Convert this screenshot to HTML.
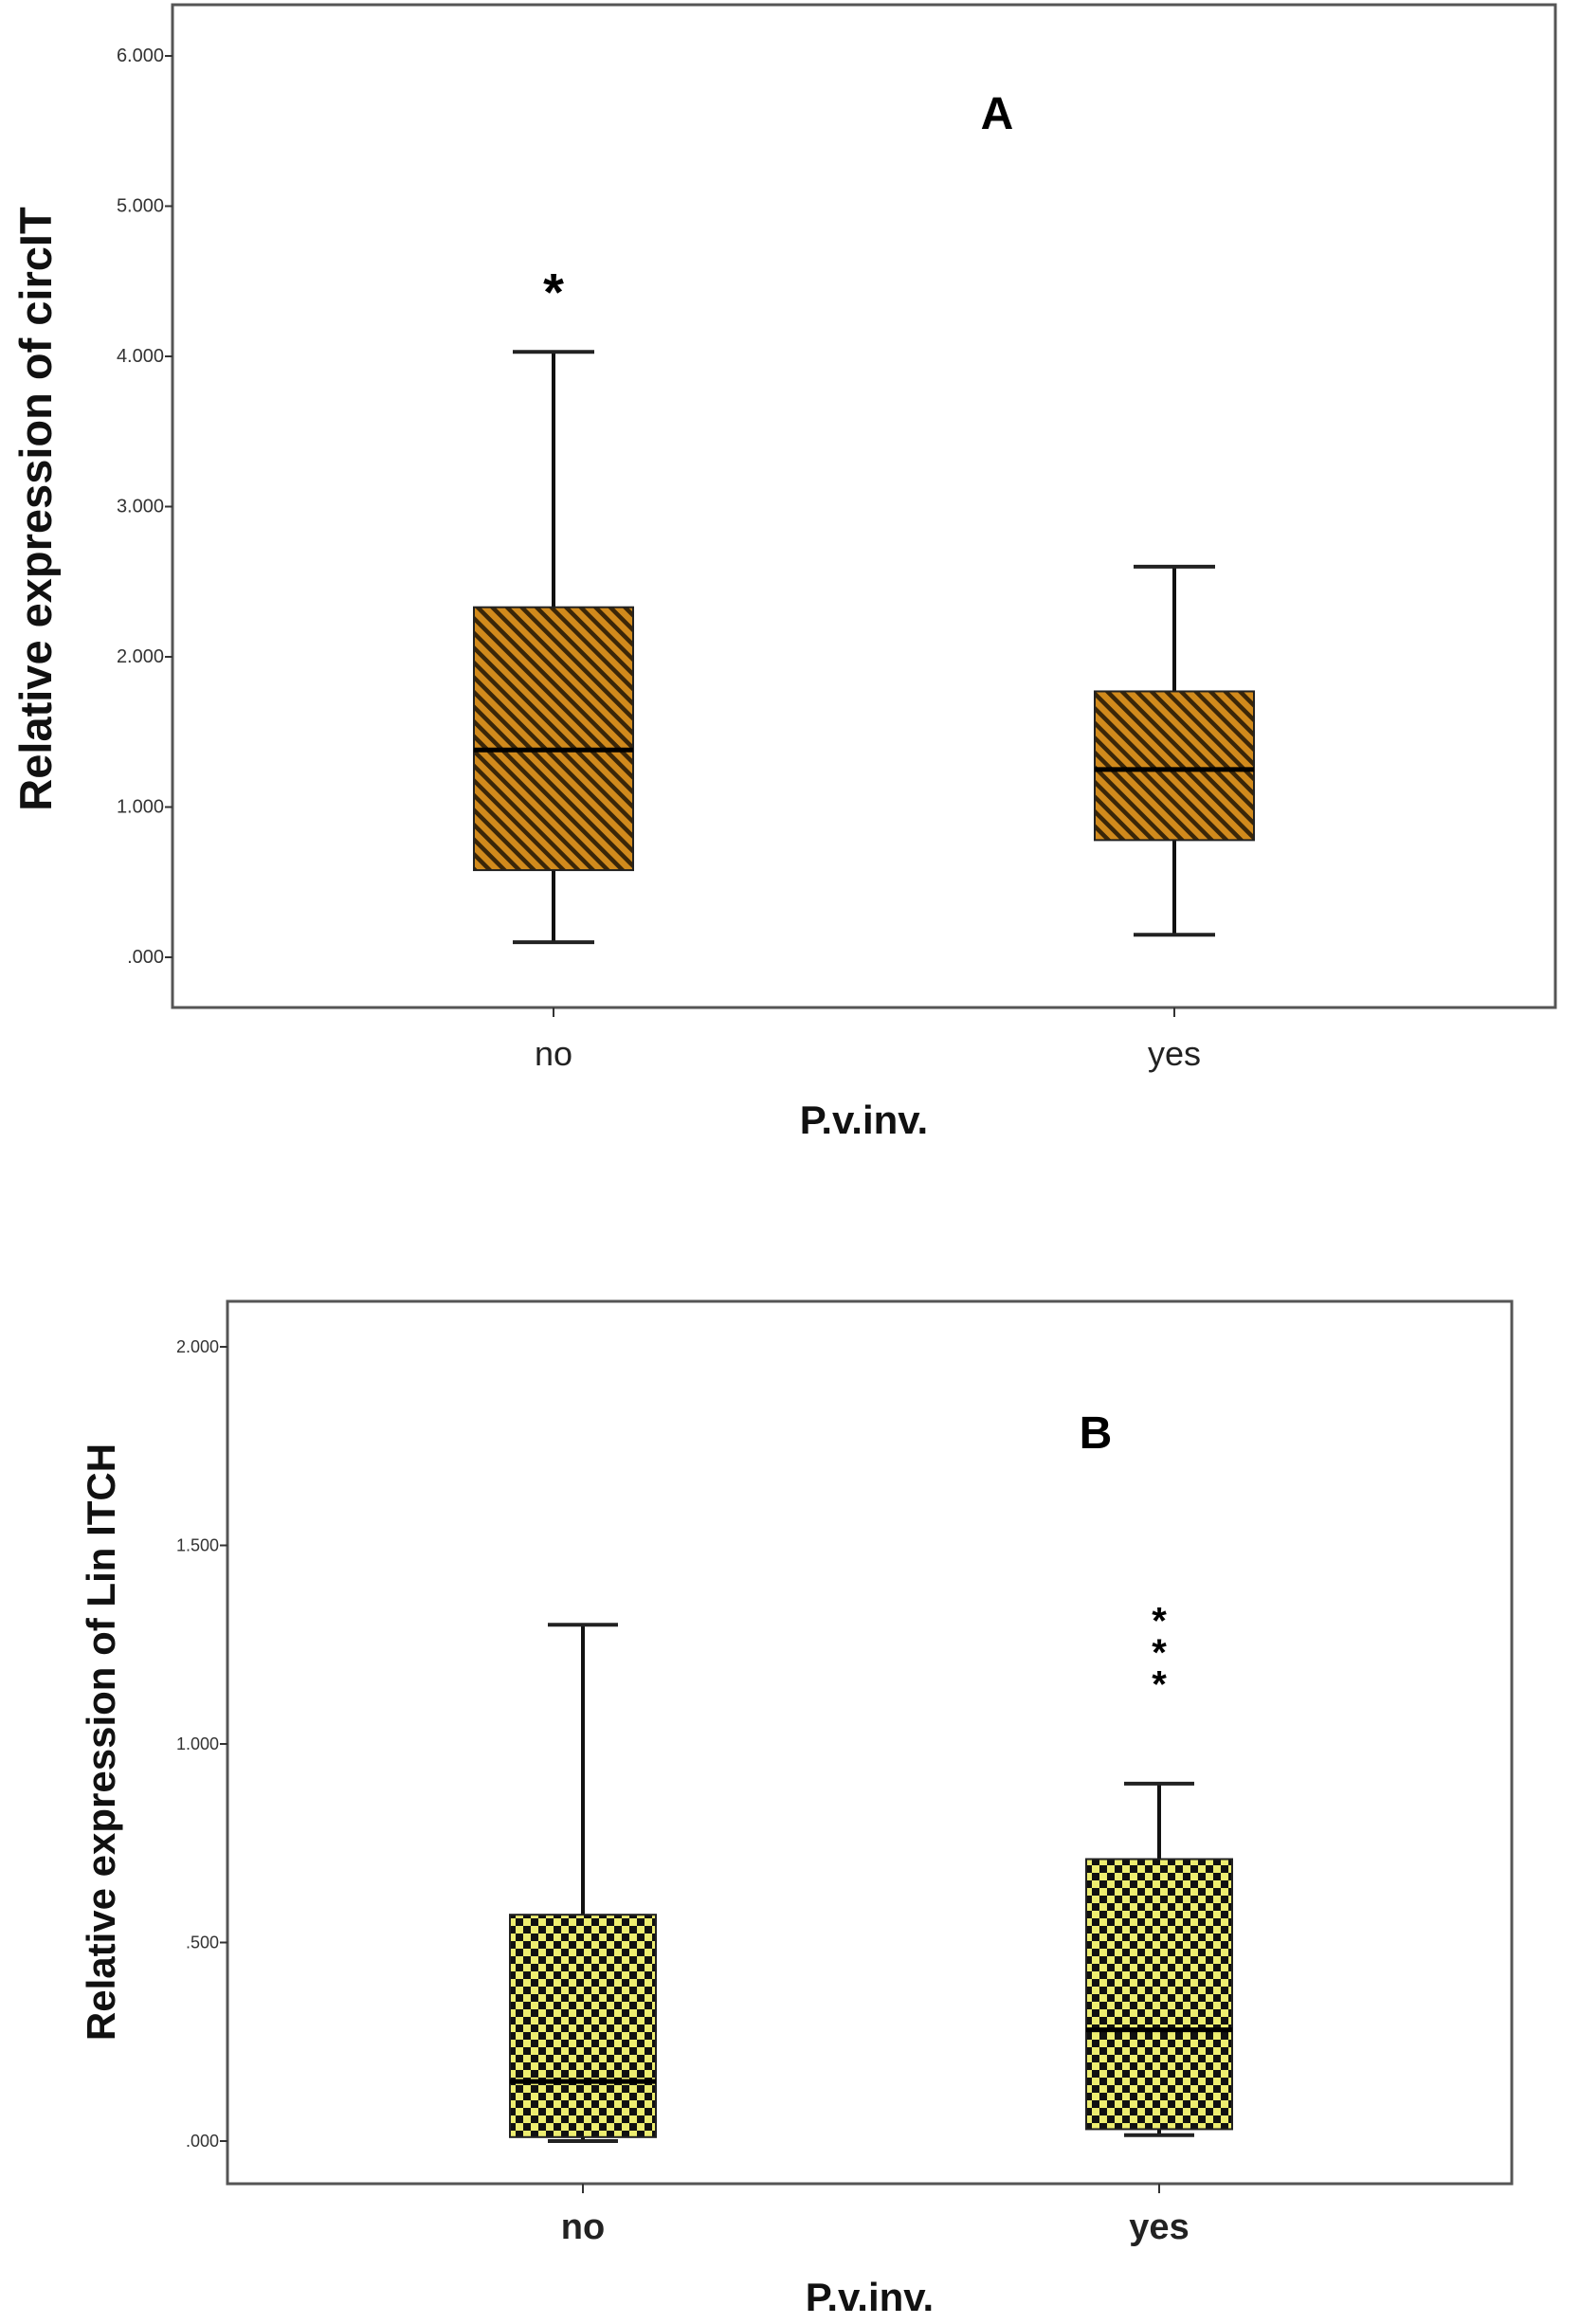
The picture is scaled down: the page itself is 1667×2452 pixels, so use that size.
<!DOCTYPE html>
<html><head><meta charset="utf-8"><style>
html,body{margin:0;padding:0;background:#fff;}
svg{display:block;font-family:"Liberation Sans",sans-serif;}
</style></head><body>
<svg width="1667" height="2452" viewBox="0 0 1667 2452">
<defs>
<pattern id="hatch" width="11" height="11" patternUnits="userSpaceOnUse" patternTransform="rotate(-45)">
<rect width="11" height="11" fill="#d18a1c"/><rect x="0" y="0" width="4.5" height="11" fill="#3a2608"/>
</pattern>
<pattern id="check" width="16" height="16" patternUnits="userSpaceOnUse">
<rect width="16" height="16" fill="#111"/><rect x="0" y="0" width="8" height="8" fill="#eded70"/><rect x="8" y="8" width="8" height="8" fill="#eded70"/>
</pattern>
</defs>
<g id="chartA"></g>
<g id="chartB"></g>
</svg>
<script>
const catsA=["no","yes"];
const minA=[0.10,0.15];
const q1A=[0.58,0.78];
const medA=[1.38,1.25];
const q3A=[2.33,1.77];
const maxA=[4.03,2.60];
const outA=[[4.52],[]];
const ticksA=[0,1,2,3,4,5,6];
const tickLabA=[".000","1.000","2.000","3.000","4.000","5.000","6.000"];

const catsB=["no","yes"];
const minB=[0.0,0.015];
const q1B=[0.01,0.03];
const medB=[0.15,0.28];
const q3B=[0.57,0.71];
const maxB=[1.30,0.90];
const outB=[[],[1.18,1.26,1.34]];
const ticksB=[0,0.5,1,1.5,2];
const tickLabB=[".000",".500","1.000","1.500","2.000"];

const NS="http://www.w3.org/2000/svg";
function mk(p,t,a,txt){const e=document.createElementNS(NS,t);for(const k in a)e.setAttribute(k,a[k]);if(txt!=null)e.textContent=txt;p.appendChild(e);return e;}

function draw(g,cfg){
  const {frame,y0,y1,v1,xs,cats,mn,q1,md,q3,mx,out,ticks,labs,fill,boxW,capW,tickFont,catFont,catBold,title,letter,yTitle,xTitleY,catY}=cfg;
  const Y=v=>y0+(y1-y0)*v/v1;
  let e=mk(g,'rect',{x:frame[0],y:frame[1],width:frame[2]-frame[0],height:frame[3]-frame[1],fill:'none',stroke:'#555',"stroke-width":3});
  
  ticks.forEach((t,i)=>{
    let l=mk(g,'line',{x1:frame[0]-8,x2:frame[0],y1:Y(t),y2:Y(t),stroke:'#333',"stroke-width":2});
    
    let tx=mk(g,'text',{x:frame[0]-9,y:Y(t)+6,"text-anchor":"end","font-size":tickFont,fill:'#333'},labs[i]);
    
  });
  cats.forEach((c,i)=>{
    const x=xs[i];
    let t=mk(g,'line',{x1:x,x2:x,y1:frame[3],y2:frame[3]+10,stroke:'#333',"stroke-width":2});
    
    let w=mk(g,'line',{x1:x,x2:x,y1:Y(mx[i]),y2:Y(mn[i]),stroke:'#111',"stroke-width":4});
    
    [mx[i],mn[i]].forEach(v=>{let cp=mk(g,'line',{x1:x-capW/2,x2:x+capW/2,y1:Y(v),y2:Y(v),stroke:'#222',"stroke-width":4});
      });
    let b=mk(g,'rect',{x:x-boxW/2,y:Y(q3[i]),width:boxW,height:Y(q1[i])-Y(q3[i]),fill:fill,stroke:'#222',"stroke-width":2});
    
    let m=mk(g,'line',{x1:x-boxW/2,x2:x+boxW/2,y1:Y(md[i]),y2:Y(md[i]),stroke:'#000',"stroke-width":5});
    
    out[i].forEach(v=>{let o=mk(g,'text',{x:x,y:Y(v)+cfg.starOff,"text-anchor":"middle","font-size":cfg.starSize,"font-weight":"bold",fill:'#000'},'*');
      });
    let cl=mk(g,'text',{x:x,y:catY,"text-anchor":"middle","font-size":catFont,"font-weight":catBold,fill:'#222'},c);
    
  });
  let xt=mk(g,'text',{x:(frame[0]+frame[2])/2,y:xTitleY,"text-anchor":"middle","font-size":42,"font-weight":"bold",fill:'#111'},"P.v.inv.");
  
  let yt=mk(g,'text',{x:0,y:0,"text-anchor":"middle","font-size":yTitle.size,"font-weight":"bold",fill:'#111',transform:`translate(${yTitle.x},${yTitle.y}) rotate(-90)`},title);
  
  let lt=mk(g,'text',{x:letter.x,y:letter.y,"text-anchor":"middle","font-size":48,"font-weight":"bold",fill:'#000'},letter.t);
  
}
draw(document.getElementById('chartA'),{frame:[182,5,1641,1063],y0:1010,y1:59,v1:6,xs:[584,1239],cats:catsA,mn:minA,q1:q1A,md:medA,q3:q3A,mx:maxA,out:outA,ticks:ticksA,labs:tickLabA,fill:'url(#hatch)',boxW:168,capW:86,tickFont:20,catFont:36,catBold:'normal',title:'Relative expression of circIT',letter:{x:1052,y:136,t:'A'},yTitle:{x:54,y:537,size:47},xTitleY:1196,catY:1124,starOff:34,starSize:56});
draw(document.getElementById('chartB'),{frame:[240,1373,1595,2304],y0:2259,y1:1421,v1:2,xs:[615,1223],cats:catsB,mn:minB,q1:q1B,md:medB,q3:q3B,mx:maxB,out:outB,ticks:ticksB,labs:tickLabB,fill:'url(#check)',boxW:154,capW:74,tickFont:18,catFont:38,catBold:'bold',title:'Relative expression of Lin ITCH',letter:{x:1156,y:1528,t:'B'},yTitle:{x:121,y:1838,size:42},xTitleY:2438,catY:2362,starOff:26,starSize:40});
</script>
</body></html>
